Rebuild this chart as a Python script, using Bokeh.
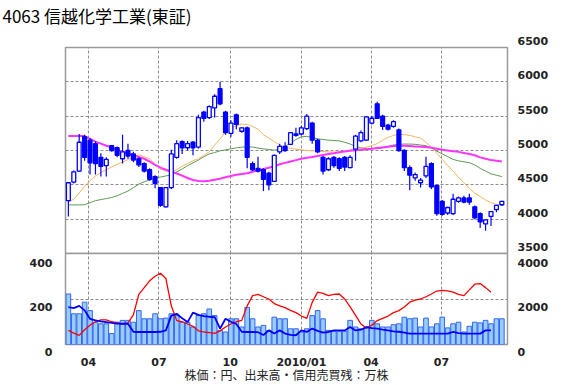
import pandas as pd
from bokeh.plotting import figure
from bokeh.models import FixedTicker, LinearAxis, Range1d, Title
from bokeh.layouts import column
from bokeh.embed import file_html
from bokeh.resources import INLINE

# ---------------- data (weekly) ----------------
title_text = "4063 信越化学工業(東証)"
note_text = "株価：円、出来高・信用売買残：万株"
first_week = "2009-03-06"
n_weeks = 81

opens = [4270, 4540, 4700, 5200, 5150, 5100, 4900, 4780, 5070, 5040,
         4880, 5000, 4950, 4880, 4810, 4720, 4620, 4460, 4180, 4460,
         4900, 5130, 5040, 5120, 5050, 5560, 5480, 5620, 5900, 5560,
         5250, 5520, 5280, 5330, 4810, 4740, 4720, 4670, 4550, 4980,
         5060, 5090, 5240, 5240, 5320, 5400, 5150, 4900, 4720, 4900,
         4880, 4900, 4750, 5020, 5140, 5150, 5400, 5680, 5500, 5370,
         5350, 5300, 5000, 4750, 4600, 4530, 4630, 4810, 4490, 4260,
         4090, 4080, 4260, 4310, 4310, 4180, 4080, 3930, 4040, 4140, 4210]
highs = [4540, 4710, 5240, 5230, 5180, 5130, 4960, 4900, 5080, 5060,
         5230, 5100, 4980, 4900, 4830, 4740, 4640, 4470, 4470, 5010,
         5150, 5150, 5140, 5140, 5520, 5580, 5660, 5820, 6000, 5580,
         5440, 5540, 5340, 5350, 4840, 4910, 4740, 4690, 4940, 5100,
         5120, 5270, 5330, 5360, 5530, 5420, 5170, 4920, 4900, 4920,
         4900, 4920, 4930, 5230, 5290, 5500, 5500, 5710, 5520, 5390,
         5440, 5320, 5020, 4780, 4680, 4600, 4910, 4830, 4500, 4280,
         4180, 4370, 4330, 4340, 4370, 4200, 4100, 4000, 4120, 4210, 4270]
lows = [4040, 4520, 4690, 4850, 4650, 4650, 4620, 4620, 4980, 4900,
        4810, 4880, 4830, 4760, 4680, 4560, 4450, 4180, 4170, 4440,
        4880, 4950, 5000, 4930, 5030, 5420, 5460, 5480, 5660, 5230,
        5200, 5310, 5260, 4740, 4700, 4680, 4410, 4420, 4540, 4950,
        4980, 5080, 5200, 5220, 5300, 5100, 4960, 4650, 4700, 4750,
        4700, 4700, 4740, 4850, 5120, 5140, 5380, 5460, 5300, 5290,
        5330, 4980, 4700, 4420, 4560, 4460, 4600, 4440, 4050, 4050,
        4060, 4060, 4240, 4230, 4210, 4000, 3870, 3830, 3900, 4100, 4190]
closes = [4530, 4690, 5120, 4900, 4820, 4810, 4770, 4870, 5000, 4930,
          4980, 4920, 4860, 4790, 4700, 4580, 4520, 4200, 4460, 4950,
          5100, 5040, 5100, 5040, 5480, 5470, 5640, 5790, 5680, 5260,
          5400, 5380, 5330, 4900, 4720, 4700, 4580, 4500, 4930, 5060,
          5000, 5260, 5220, 5330, 5500, 5150, 4980, 4700, 4880, 4780,
          4740, 4760, 4900, 5210, 5260, 5490, 5470, 5470, 5350, 5310,
          5420, 5000, 4750, 4640, 4650, 4570, 4770, 4470, 4080, 4070,
          4170, 4290, 4310, 4250, 4250, 4020, 3960, 3990, 4110, 4200, 4260]

ma13 = [4250, 4290, 4380, 4480, 4560, 4630, 4680, 4720, 4760, 4800,
        4830, 4868, 4910, 4935, 4910, 4880, 4800, 4730, 4700, 4690,
        4720, 4770, 4810, 4850, 4880, 4930, 4980, 5080, 5170, 5270,
        5320, 5360, 5385, 5380, 5350, 5310, 5230, 5180, 5130, 5080,
        5050, 5030, 5020, 5010, 5000, 4995, 4990, 4985, 4980, 4978,
        4976, 4990, 5010, 5025, 5035, 5047, 5070, 5100, 5150, 5190,
        5220, 5235, 5230, 5220, 5200, 5180, 5120, 5050, 4960, 4870,
        4780, 4700, 4610, 4530, 4450, 4380, 4330, 4280, 4240, 4215, 4210]
ma26 = [4208, 4208, 4208, 4210, 4240, 4270, 4285, 4300, 4316, 4340,
        4375, 4410, 4460, 4510, 4545, 4570, 4595, 4613, 4630, 4645,
        4690, 4730, 4780, 4820, 4860, 4910, 4950, 4970, 4995, 5010,
        5025, 5038, 5048, 5055, 5050, 5035, 5024, 5015, 5005, 5020,
        5060, 5110, 5160, 5200, 5205, 5190, 5170, 5160, 5150, 5145,
        5140, 5120, 5094, 5060, 5040, 5030, 5025, 5030, 5040, 5060,
        5080, 5090, 5094, 5094, 5090, 5080, 5070, 5040, 4990, 4950,
        4910, 4870, 4850, 4835, 4822, 4790, 4740, 4700, 4660, 4640, 4620]
ma52 = [5212, 5212, 5212, 5210, 5170, 5130, 5100, 5070, 5045, 5010,
        4980, 4953, 4930, 4905, 4880, 4840, 4790, 4750, 4720, 4693,
        4665, 4635, 4600, 4570, 4555, 4552, 4560, 4575, 4590, 4610,
        4630, 4646, 4658, 4670, 4690, 4710, 4730, 4750, 4770, 4800,
        4820, 4840, 4860, 4880, 4895, 4906, 4920, 4935, 4950, 4960,
        4975, 4985, 4995, 5005, 5012, 5018, 5024, 5035, 5045, 5055,
        5065, 5070, 5068, 5065, 5060, 5055, 5050, 5040, 5025, 5010,
        5000, 4990, 4980, 4965, 4950, 4930, 4900, 4880, 4860, 4850, 4840]

volume = [222, 135, 135, 186, 149, 98, 91, 91, 48, 98,
          106, 106, 98, 149, 113, 113, 135, 113, 116, 135,
          127, 98, 98, 77, 127, 135, 156, 127, 62, 55,
          113, 113, 77, 163, 113, 77, 84, 62, 120, 113,
          113, 69, 69, 55, 69, 127, 149, 113, 62, 58,
          58, 58, 106, 77, 69, 77, 106, 91, 77, 77,
          87, 91, 120, 113, 116, 77, 116, 77, 91, 120,
          73, 91, 98, 55, 80, 98, 95, 106, 91, 113, 113]

margin_buy = [620, 500, 400, 650, 850, 1000, 1080, 1080, 1000, 950,
              900, 950, 1300, 2200, 2500, 2800, 3000, 3130, 2900, 1700,
              1050, 1000, 900, 800, 600, 550, 520, 490, 600, 770,
              900, 1000, 1060, 1700, 2150, 2200, 2100, 2000, 1800, 1700,
              1620, 1500, 1400, 1250, 1150, 1850, 2300, 2250, 2150, 2200,
              2220, 2000, 1650, 1280, 900, 720, 850, 1050, 1150, 1250,
              1400, 1490, 1650, 1860, 1950, 2000, 2100, 2220, 2350, 2380,
              2360, 2300, 2200, 2150, 2400, 2650, 2680, 2500, 2300]
margin_sell = [1640, 1600, 1700, 1500, 1130, 1060, 1020, 985, 950, 920,
               913, 913, 560, 550, 550, 550, 550, 560, 620, 1270,
               1350, 1150, 985, 1400, 1300, 1250, 1220, 1200, 700, 1130,
               1000, 900, 560, 550, 550, 540, 420, 620, 480, 620,
               480, 420, 406, 620, 550, 700, 600, 520, 550, 620,
               620, 620, 770, 620, 650, 760, 720, 700, 650, 620,
               580, 560, 520, 478, 478, 478, 478, 478, 478, 478,
               480, 550, 500, 478, 478, 478, 478, 620, 620]

tick_dates = ["2009-04-01", "2009-07-01", "2009-10-01", "2010-01-01", "2010-04-01", "2010-07-01"]
tick_labels = ["04", "07", "10", "2010/01", "04", "07"]
price_ticks = [3500, 4000, 4500, 5000, 5500, 6000, 6500]
vol_ticks = [0, 200, 400]
margin_ticks = [0, 2000, 4000]

# ---------------- positions / styling ----------------
origin = pd.Timestamp("2009-01-01")
dates = pd.date_range(first_week, periods=n_weeks, freq="7D")
xs = [float((d - origin).days) for d in dates]
tick_x = [int((pd.Timestamp(t) - origin).days) for t in tick_dates]
overrides = {tx: lab for tx, lab in zip(tick_x, tick_labels)}

BLUE = "#0000ff"
GRID = "#8c8c8c"
LABEL_FONT = "DejaVu Sans"
OVERLAP = 13   # px band shared by the two canvases around the panel divider


def style_axis(a, standoff):
    a.major_tick_line_color = None
    a.minor_tick_line_color = None
    a.major_tick_out = 0
    a.major_tick_in = 0
    a.minor_tick_out = 0
    a.minor_tick_in = 0
    a.axis_line_color = None
    a.major_label_standoff = standoff
    a.major_label_text_font = LABEL_FONT
    a.major_label_text_font_size = "11px"
    a.major_label_text_font_style = "bold"
    a.major_label_text_color = "#222222"


x_range = Range1d(60.3, 631.3)

# ---------------- price panel ----------------
p1 = figure(width=570, height=253 + OVERLAP, x_range=x_range, y_range=Range1d(3500, 6500),
            output_backend="svg", toolbar_location=None,
            x_axis_location=None, y_axis_location="right",
            min_border_left=65, min_border_right=63, min_border_top=40, min_border_bottom=OVERLAP)
p1.border_fill_alpha = 0
p1.title.text = title_text
p1.title.align = "left"
p1.title.vertical_align = "bottom"
p1.title.offset = -63
p1.title.standoff = 0
p1.title.text_font = "Noto Sans CJK JP"
p1.title.text_font_size = "17px"
p1.title.text_font_style = "normal"
p1.title.text_color = "#000000"
# spacer between the title and the frame
p1.add_layout(Title(text=" ", text_font_size="1px", standoff=17), "above")

pax = p1.yaxis[0]
pax.ticker = FixedTicker(ticks=price_ticks)
# labels sit a little above their tick (trailing empty line)
pax.major_label_overrides = {t: f"{t}\n" for t in price_ticks}
pax.major_label_text_line_height = 0.9
style_axis(pax, 10)

p1.outline_line_color = "#9a9a9a"
p1.outline_line_width = 1.5
p1.xgrid.ticker = FixedTicker(ticks=tick_x)
p1.ygrid.ticker = FixedTicker(ticks=price_ticks[1:-1])
for g in (p1.xgrid, p1.ygrid):
    g.grid_line_color = GRID
    g.grid_line_dash = "3 2"
    g.grid_line_width = 1

# moving averages
p1.line(xs, ma26, line_color="#5f9a55", line_width=1)
p1.line(xs, ma13, line_color="#f2b560", line_width=1)
p1.line(xs, ma52, line_color="#ff33ff", line_width=2)

# candles
up = [c >= o for o, c in zip(opens, closes)]
tops = [max(o, c) for o, c in zip(opens, closes)]
bots = [min(o, c) for o, c in zip(opens, closes)]
fills = ["#ffffff" if u else BLUE for u in up]
p1.segment(xs, highs, xs, lows, line_color=BLUE, line_width=1.2)
p1.vbar(x=xs, width=5.0, top=tops, bottom=bots, fill_color=fills,
        line_color=BLUE, line_width=1.3)

# ---------------- volume panel ----------------
p2 = figure(width=570, height=OVERLAP + 93 + 39, x_range=x_range, y_range=Range1d(0, 400),
            output_backend="svg", toolbar_location=None, title=None,
            min_border_left=65, min_border_right=63, min_border_top=OVERLAP, min_border_bottom=39)
p2.margin = (-2 * OVERLAP, 0, 0, 0)
p2.border_fill_alpha = 0
p2.extra_y_ranges = {"margin": Range1d(0, 4000)}
p2.add_layout(LinearAxis(y_range_name="margin", ticker=FixedTicker(ticks=margin_ticks)), "right")
p2.yaxis[0].ticker = FixedTicker(ticks=vol_ticks)
# labels sit a little below their tick (leading empty line)
p2.yaxis[0].major_label_overrides = {t: f"\n{t}" for t in vol_ticks}
p2.yaxis[1].major_label_overrides = {t: f"\n{t}" for t in margin_ticks}
style_axis(p2.yaxis[0], 13)
style_axis(p2.yaxis[1], 10)
for a in p2.yaxis:
    a.major_label_text_line_height = 1.25

p2.outline_line_color = "#9a9a9a"
p2.outline_line_width = 1.5
p2.xgrid.ticker = FixedTicker(ticks=tick_x)
p2.ygrid.ticker = FixedTicker(ticks=[200])
for g in (p2.xgrid, p2.ygrid):
    g.grid_line_color = GRID
    g.grid_line_dash = "3 2"
    g.grid_line_width = 1

xa = p2.xaxis[0]
xa.ticker = FixedTicker(ticks=tick_x)
xa.major_label_overrides = overrides
style_axis(xa, 11)
xa.major_label_text_line_height = 0.9
xa.axis_label = note_text
xa.axis_label_standoff = -6
xa.axis_label_text_line_height = 0.8
xa.axis_label_text_font = "Noto Sans CJK JP"
xa.axis_label_text_font_size = "12px"
xa.axis_label_text_font_style = "normal"
xa.axis_label_text_color = "#222222"

p2.vbar(x=xs, width=6.0, top=volume, bottom=0, fill_color="#99ccff",
        line_color="#3366ee", line_width=1)
p2.line(xs[:len(margin_buy)], margin_buy, y_range_name="margin", line_color="#ff0000", line_width=1.3)
p2.line(xs[:len(margin_sell)], margin_sell, y_range_name="margin", line_color=BLUE, line_width=1.8)

layout = column(p1, p2, spacing=0)
open("out.html", "w").write(file_html(layout, INLINE))
